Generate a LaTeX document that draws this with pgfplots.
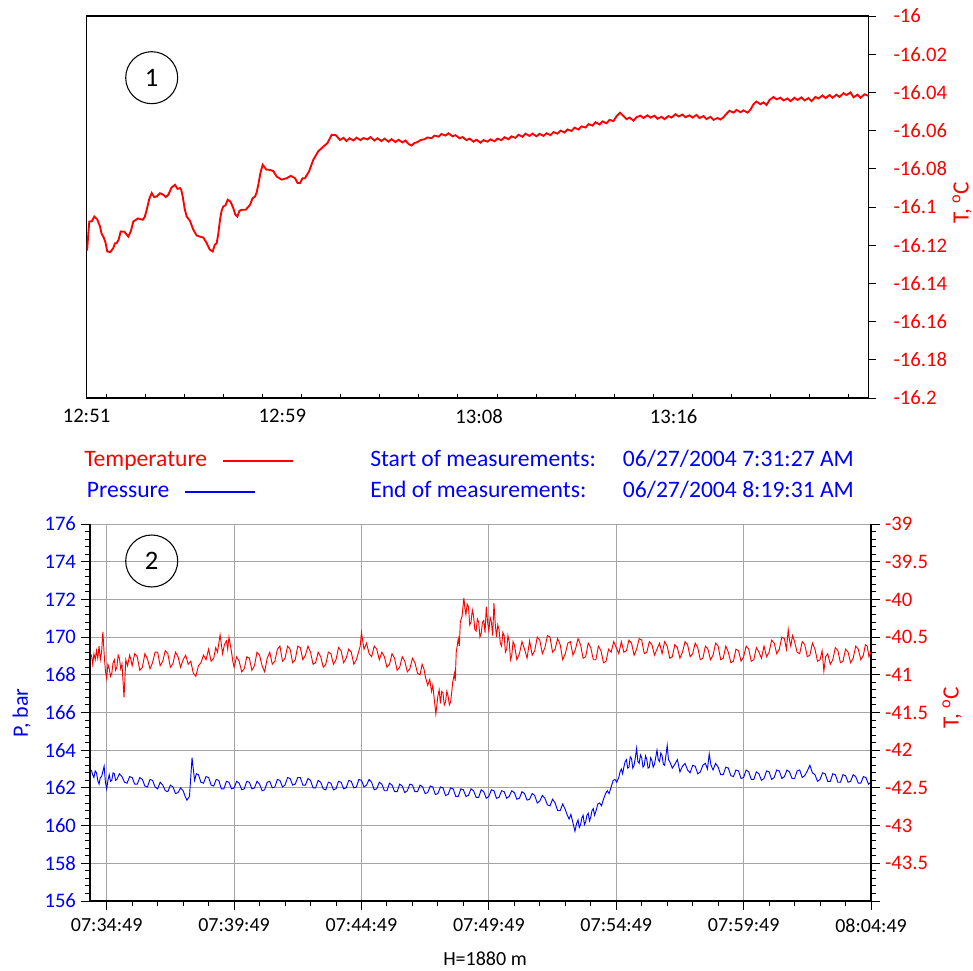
\documentclass[border=0pt]{standalone}
\usepackage{pgfplots}
\pgfplotsset{compat=1.18}
\usepackage{fontspec}
\setmainfont{Carlito}
\definecolor{tred}{RGB}{255,0,0}
\definecolor{pblue}{RGB}{0,0,255}
\definecolor{gridgray}{RGB}{165,165,165}
\newcommand\fs[1]{\fontsize{#1}{#1}\selectfont}
\begin{document}
\begin{tikzpicture}[x=0.75pt,y=0.75pt]
\useasboundingbox (0,0) rectangle (973,970);
% ---------------- Panel 1 ----------------
\begin{axis}[
  scale only axis, width=586.5pt, height=286.5pt,
  anchor=south west, at={(64.875pt,429pt)},
  xmin=0, xmax=782, ymin=-16.2, ymax=-16,
  axis line style={black, line width=0.9pt},
  tick align=outside,
  major tick length=3.2pt,
  xtick pos=left, ytick pos=right, yticklabel pos=right,
  xtick={19.5,58.6,97.7,136.8,175.9,215.0,254.1,293.2,332.3,371.4,410.5,449.6,488.7,527.8,566.9,606.0,645.1,684.2,723.3,762.4},
  xticklabels={},
  x tick style={black, line width=0.7pt, yshift=3.2pt},
  extra x ticks={0,195.8,392.7,587.2},
  extra x tick labels={12:51,12:59,13:08,13:16},
  extra x tick style={major tick length=0pt, tick style={draw=none},
     xticklabel style={font=\fs{15.5}, black, yshift=-5pt}},
  ytick=\empty,
  extra y ticks={-16.2,-16.18,-16.16,-16.14,-16.12,-16.1,-16.08,-16.06,-16.04,-16.02,-16},
  extra y tick labels={-16.2,-16.18,-16.16,-16.14,-16.12,-16.1,-16.08,-16.06,-16.04,-16.02,-16},
  extra y tick style={major tick length=5.8pt, tick style={black, line width=0.7pt},
     yticklabel style={font=\fs{15.5}, tred, xshift=9.5pt}},
]
\addplot[tred, line width=1.4pt] coordinates {
(0,-16.1230) (0.8,-16.1215) (1.8,-16.1140) (2.8,-16.1076) (5.3,-16.1075) (7.8,-16.1050)
(10.6,-16.1064) (13.5,-16.1102) (15.1,-16.1140) (16.8,-16.1155) (18.8,-16.1182)
(20.8,-16.1233) (23.8,-16.1236) (26.8,-16.1215) (28.5,-16.1190) (30.2,-16.1189)
(32.2,-16.1170) (34.2,-16.1128) (38.0,-16.1130) (41.8,-16.1155) (44.3,-16.1128)
(46.8,-16.1076) (51.5,-16.1060) (56.2,-16.1067) (58.2,-16.1053) (60.2,-16.1015)
(62.7,-16.0959) (65.2,-16.0927) (67.7,-16.0948) (70.2,-16.0945) (73.5,-16.0928)
(76.8,-16.0936) (79.3,-16.0948) (81.8,-16.0936) (85.1,-16.0898) (88.5,-16.0884)
(91.0,-16.0905) (93.5,-16.0901) (94.8,-16.0911) (96.2,-16.0945) (98.2,-16.1010)
(100.2,-16.1050) (103.5,-16.1073) (106.8,-16.1119) (110.1,-16.1149) (113.5,-16.1155)
(116.8,-16.1160) (120.2,-16.1189) (123.2,-16.1223) (126.2,-16.1233) (128.2,-16.1199)
(130.2,-16.1189) (131.8,-16.1140) (133.5,-16.1067) (135.1,-16.1020) (136.8,-16.0997)
(139.0,-16.0991) (141.2,-16.0962) (144.0,-16.0972) (146.8,-16.1006) (148.8,-16.1040)
(150.8,-16.1050) (153.0,-16.1020) (155.2,-16.1015) (159.3,-16.1014) (163.5,-16.0989)
(166.0,-16.0955) (168.5,-16.0945) (170.1,-16.0925) (171.8,-16.0884) (174.0,-16.0820)
(176.2,-16.0779) (179.8,-16.0804) (183.5,-16.0806) (186.8,-16.0812) (190.2,-16.0841)
(195.2,-16.0857) (200.2,-16.0849) (204.3,-16.0837) (208.5,-16.0849) (211.0,-16.0874)
(213.5,-16.0875) (216.0,-16.0850) (218.5,-16.0849) (222.6,-16.0813) (226.8,-16.0753)
(231.8,-16.0708) (236.8,-16.0684) (241.0,-16.0665) (245.2,-16.0622) (249.3,-16.0624)
(253.5,-16.0649) (257,-16.0638) (260,-16.0655) (263,-16.0640) (267,-16.0652)
(270,-16.0637) (274,-16.0650) (277,-16.0639) (281,-16.0646) (284,-16.0634)
(288,-16.0652) (291,-16.0640) (295,-16.0655) (298,-16.0642) (302,-16.0658)
(305,-16.0645) (309,-16.0660) (312,-16.0648) (316,-16.0662) (319,-16.0652)
(322,-16.0670) (325,-16.0678) (328,-16.0665) (331,-16.0660) (334,-16.0650)
(338,-16.0645) (341,-16.0636) (345,-16.0640) (348,-16.0626) (352,-16.0632)
(355,-16.0618) (359,-16.0626) (362,-16.0614) (366,-16.0630) (369,-16.0624)
(373,-16.0640) (376,-16.0634) (380,-16.0650) (383,-16.0642) (387,-16.0658)
(390,-16.0648) (394,-16.0663) (397,-16.0650) (401,-16.0658) (404,-16.0646)
(408,-16.0656) (411,-16.0642) (415,-16.0650) (418,-16.0635) (422,-16.0645)
(425,-16.0630) (429,-16.0638) (432,-16.0622) (436,-16.0632) (439,-16.0616)
(443,-16.0628) (446,-16.0616) (450,-16.0630) (453,-16.0617) (457,-16.0628)
(460,-16.0614) (464,-16.0624) (467,-16.0608) (471,-16.0616) (474,-16.0600)
(478,-16.0610) (481,-16.0594) (485,-16.0602) (488,-16.0585) (492,-16.0594)
(495,-16.0578) (499,-16.0584) (502,-16.0566) (506,-16.0574) (509,-16.0556)
(513,-16.0568) (516,-16.0552) (520,-16.0562) (523,-16.0544) (527,-16.0550)
(530,-16.0525) (533.5,-16.0506) (537,-16.0524) (540,-16.0540) (543,-16.0532)
(547,-16.0548) (550,-16.0530) (554,-16.0522) (557,-16.0534) (561,-16.0520)
(564,-16.0532) (568,-16.0522) (571,-16.0538) (575,-16.0528) (578,-16.0540)
(582,-16.0524) (585,-16.0532) (589,-16.0514) (592,-16.0526) (596,-16.0516)
(599,-16.0530) (603,-16.0520) (606,-16.0532) (610,-16.0518) (613,-16.0534)
(617,-16.0524) (620,-16.0540) (624,-16.0528) (627,-16.0544) (631,-16.0534)
(634,-16.0542) (637,-16.0530) (640,-16.0512) (643,-16.0496) (647,-16.0506)
(650,-16.0492) (654,-16.0504) (657,-16.0494) (661,-16.0506) (664,-16.0490)
(667,-16.0462) (670,-16.0448) (674,-16.0462) (677,-16.0452) (680,-16.0466)
(683,-16.0440) (687,-16.0424) (690,-16.0436) (694,-16.0428) (697,-16.0442)
(701,-16.0432) (704,-16.0446) (708,-16.0428) (711,-16.0440) (715,-16.0426)
(718,-16.0442) (722,-16.0430) (725,-16.0446) (729,-16.0424) (732,-16.0432)
(736,-16.0416) (739,-16.0430) (743,-16.0414) (746,-16.0428) (750,-16.0412)
(753,-16.0424) (757,-16.0404) (760,-16.0414) (764,-16.0400) (767,-16.0426)
(771,-16.0412) (774,-16.0428) (778,-16.0410) (782,-16.0418)
};
\end{axis}
% ---------------- Panel 2 : pressure ----------------
\begin{axis}[
  scale only axis, width=585.75pt, height=282.75pt,
  anchor=south west, at={(67.5pt,51.75pt)},
  xmin=-0.655, xmax=30, ymin=156, ymax=176,
  axis x line*=bottom, axis y line*=left,
  axis line style={-, black, line width=0.9pt},
  xtick pos=left, ytick pos=left,
  tick align=outside,
  xtick={0,5,10,15,20,25,30},
  xticklabels={07:34:49,07:39:49,07:44:49,07:49:49,07:54:49,07:59:49,08:04:49},
  minor x tick num=4,
  ytick={156,158,160,162,164,166,168,170,172,174,176},
  minor y tick num=4,
  major tick length=7pt, minor tick length=3.8pt,
  tick style={black, line width=0.7pt},
  grid=major, major grid style={gridgray, line width=0.6pt},
  xticklabel style={font=\fs{15}, black, yshift=-2.5pt},
  yticklabel style={font=\fs{15.5}, pblue},
  /pgf/number format/assume math mode=true,
]
\addplot[pblue, line width=0.7pt] coordinates {
(-0.60,162.95) (-0.55,162.70) (-0.50,162.55) (-0.45,162.90) (-0.40,162.80) (-0.35,162.40)
(-0.30,162.20) (-0.25,162.55) (-0.20,162.60) (-0.10,163.15) (-0.05,162.30) (0.00,161.95)
(0.05,162.40) (0.10,162.70) (0.15,162.35) (0.20,162.40) (0.25,162.80) (0.30,162.75)
(0.35,162.40) (0.40,162.45) (0.50,162.75) (0.60,162.60) (0.70,162.30) (0.80,162.25)
(0.90,162.60) (1.00,162.55) (1.10,162.20) (1.20,162.20) (1.30,162.55) (1.40,162.45)
(1.50,162.10) (1.60,162.05) (1.70,162.45) (1.80,162.40) (1.90,162.05) (2.00,161.95)
(2.10,162.30) (2.20,162.15) (2.30,161.85) (2.40,161.80) (2.50,162.15) (2.60,162.05)
(2.70,161.70) (2.80,161.75) (2.90,162.00) (3.00,161.85) (3.08,161.55) (3.15,161.35)
(3.25,161.55) (3.35,163.60) (3.45,162.40) (3.52,162.75) (3.60,162.70) (3.70,162.30)
(3.80,162.25) (3.90,162.60) (4.00,162.55) (4.10,162.15) (4.20,162.10) (4.30,162.45)
(4.40,162.40) (4.50,161.95) (4.60,161.95) (4.70,162.35) (4.80,162.30) (4.90,161.95)
(5.00,162.00) (5.10,162.35) (5.20,162.25) (5.30,161.90) (5.40,161.95) (5.50,162.35)
(5.60,162.30) (5.70,161.95) (5.80,162.00) (5.90,162.35) (6.00,162.20) (6.10,161.85)
(6.20,161.90) (6.30,162.30) (6.40,162.35) (6.50,162.00) (6.60,162.05) (6.70,162.45)
(6.80,162.40) (6.90,162.05) (7.00,162.15) (7.10,162.55) (7.20,162.50) (7.30,162.15)
(7.40,162.20) (7.50,162.55) (7.60,162.55) (7.70,162.15) (7.80,162.15) (7.90,162.50)
(8.00,162.40) (8.10,162.00) (8.20,162.00) (8.30,162.40) (8.40,162.30) (8.50,161.95)
(8.60,161.90) (8.70,162.30) (8.80,162.25) (8.90,161.90) (9.00,161.95) (9.10,162.35)
(9.20,162.30) (9.30,161.95) (9.40,162.00) (9.50,162.40) (9.60,162.35) (9.70,162.00)
(9.80,162.05) (9.90,162.45) (10.00,162.40) (10.10,162.05) (10.20,162.15) (10.30,162.45)
(10.40,162.30) (10.50,161.90) (10.60,161.95) (10.70,162.30) (10.80,162.20) (10.90,161.85)
(11.00,161.85) (11.10,162.25) (11.20,162.15) (11.30,161.80) (11.40,161.80) (11.50,162.20)
(11.60,162.10) (11.70,161.75) (11.80,161.85) (11.90,162.20) (12.00,162.15) (12.10,161.80)
(12.20,161.80) (12.30,162.15) (12.40,162.05) (12.50,161.70) (12.60,161.75) (12.70,162.10)
(12.80,162.05) (12.90,161.65) (13.00,161.70) (13.10,162.05) (13.20,162.00) (13.30,161.60)
(13.40,161.65) (13.50,162.00) (13.60,161.95) (13.70,161.55) (13.80,161.55) (13.90,161.95)
(14.00,161.90) (14.10,161.55) (14.20,161.60) (14.30,161.95) (14.40,161.85) (14.50,161.50)
(14.60,161.50) (14.70,161.90) (14.80,161.80) (14.90,161.45) (15.00,161.55) (15.10,161.90)
(15.20,161.85) (15.30,161.45) (15.40,161.50) (15.50,161.85) (15.60,161.80) (15.70,161.45)
(15.80,161.55) (15.90,161.85) (16.00,161.75) (16.10,161.40) (16.20,161.45) (16.30,161.80)
(16.40,161.70) (16.50,161.35) (16.60,161.40) (16.70,161.70) (16.80,161.60) (16.90,161.20)
(17.00,161.30) (17.10,161.60) (17.20,161.45) (17.30,161.10) (17.40,161.05) (17.50,161.40)
(17.60,161.20) (17.70,160.80) (17.80,160.80) (17.90,161.15) (18.00,160.85) (18.08,160.55)
(18.15,160.35) (18.22,160.60) (18.30,160.15) (18.38,159.70) (18.44,160.10) (18.50,160.30)
(18.55,159.90) (18.60,160.05) (18.65,160.40) (18.70,160.55) (18.75,160.05) (18.80,160.20)
(18.85,160.55) (18.90,160.65) (18.95,160.25) (19.00,160.45) (19.05,160.80) (19.10,160.90)
(19.15,160.55) (19.20,160.75) (19.28,161.15) (19.35,161.20) (19.42,161.05) (19.50,161.40)
(19.58,161.70) (19.65,161.85) (19.72,161.70) (19.80,162.05) (19.88,162.40) (19.95,162.45)
(20.02,162.30) (20.10,162.55) (20.15,162.85) (20.20,163.00) (20.25,162.75) (20.30,163.10)
(20.35,163.40) (20.40,163.50) (20.45,163.05) (20.50,163.10) (20.55,163.65) (20.60,163.55)
(20.65,163.05) (20.70,163.20) (20.75,163.60) (20.80,164.10) (20.85,163.40) (20.90,163.30)
(20.95,163.75) (21.00,163.60) (21.05,163.10) (21.10,163.20) (21.15,163.70) (21.20,163.50)
(21.25,163.05) (21.30,163.10) (21.35,163.60) (21.40,163.45) (21.45,163.10) (21.50,163.25)
(21.60,164.00) (21.65,163.50) (21.70,163.40) (21.75,163.85) (21.80,163.70) (21.85,163.25)
(21.90,163.20) (22.00,164.25) (22.05,163.50) (22.10,163.40) (22.20,163.05) (22.30,163.25)
(22.40,163.50) (22.50,162.85) (22.60,163.15) (22.70,163.30) (22.80,162.95) (22.90,162.80)
(23.00,163.20) (23.10,163.15) (23.20,162.75) (23.30,162.85) (23.40,163.20) (23.50,163.30)
(23.58,163.00) (23.65,163.80) (23.72,163.20) (23.80,162.95) (23.90,163.30) (24.00,163.10)
(24.10,162.70) (24.20,162.70) (24.30,163.10) (24.40,163.05) (24.50,162.65) (24.60,162.60)
(24.70,162.95) (24.80,162.90) (24.90,162.50) (25.00,162.55) (25.10,162.95) (25.20,162.85)
(25.30,162.45) (25.40,162.45) (25.50,162.85) (25.60,162.75) (25.70,162.40) (25.80,162.50)
(25.90,162.90) (26.00,162.85) (26.10,162.45) (26.20,162.55) (26.30,162.95) (26.40,162.90)
(26.50,162.50) (26.60,162.60) (26.70,162.95) (26.80,162.85) (26.90,162.50) (27.00,162.50)
(27.10,162.90) (27.20,162.95) (27.30,162.55) (27.40,162.65) (27.50,162.90) (27.60,163.20)
(27.70,162.80) (27.80,162.70) (27.90,162.35) (28.00,162.45) (28.10,162.80) (28.20,162.75)
(28.30,162.35) (28.40,162.35) (28.50,162.75) (28.60,162.70) (28.70,162.30) (28.80,162.30)
(28.90,162.70) (29.00,162.65) (29.10,162.30) (29.20,162.35) (29.30,162.70) (29.40,162.60)
(29.50,162.25) (29.60,162.25) (29.70,162.60) (29.80,162.55) (29.90,162.20) (30.00,162.30)
};
\end{axis}
% ---------------- Panel 2 : temperature ----------------
\begin{axis}[
  scale only axis, width=585.75pt, height=282.75pt,
  anchor=south west, at={(67.5pt,51.75pt)},
  xmin=-0.655, xmax=30, ymin=-44, ymax=-39,
  axis x line=none, axis y line*=right,
  axis line style={-, black, line width=0.9pt},
  ytick pos=right, yticklabel pos=right,
  tick align=outside,
  ytick={-44,-43.5,-43,-42.5,-42,-41.5,-41,-40.5,-40,-39.5,-39},
  yticklabels={,-43.5,-43,-42.5,-42,-41.5,-41,-40.5,-40,-39.5,-39},
  minor y tick num=4,
  major tick length=7pt, minor tick length=3.8pt,
  tick style={black, line width=0.7pt},
  yticklabel style={font=\fs{15.5}, tred},
]
\addplot[tred, line width=0.7pt] coordinates {
(-0.60,-40.73) (-0.55,-40.86) (-0.50,-40.72) (-0.45,-40.80) (-0.40,-40.68) (-0.35,-40.78)
(-0.30,-40.62) (-0.25,-40.80) (-0.20,-40.70) (-0.15,-40.43) (-0.10,-40.72) (-0.05,-40.95)
(0.00,-41.05) (0.05,-40.86) (0.10,-40.92) (0.15,-41.02) (0.20,-40.98) (0.25,-40.84)
(0.30,-40.80) (0.35,-40.94) (0.40,-40.90) (0.45,-40.74) (0.50,-40.78) (0.55,-40.92)
(0.60,-40.86) (0.68,-41.30) (0.75,-40.80) (0.82,-40.88) (0.90,-40.74) (0.95,-40.80)
(1.00,-40.88) (1.10,-40.72) (1.20,-40.76) (1.30,-40.94) (1.40,-40.90) (1.50,-40.72)
(1.60,-40.79) (1.70,-40.92) (1.80,-40.84) (1.90,-40.70) (2.00,-40.70) (2.10,-40.88)
(2.20,-40.82) (2.30,-40.68) (2.40,-40.72) (2.50,-40.90) (2.60,-40.85) (2.70,-40.70)
(2.80,-40.76) (2.90,-40.90) (3.00,-40.80) (3.10,-40.74) (3.20,-40.86) (3.30,-40.82)
(3.40,-40.98) (3.50,-41.02) (3.60,-40.88) (3.70,-40.84) (3.80,-40.74) (3.90,-40.80)
(4.00,-40.66) (4.10,-40.82) (4.20,-40.78) (4.28,-40.64) (4.35,-40.70) (4.45,-40.47)
(4.55,-40.72) (4.62,-40.60) (4.70,-40.55) (4.75,-40.66) (4.80,-40.50) (4.90,-40.70)
(4.95,-40.82) (5.00,-40.90) (5.10,-40.76) (5.20,-40.82) (5.30,-40.96) (5.40,-40.92)
(5.50,-40.76) (5.60,-40.78) (5.70,-40.94) (5.80,-40.88) (5.90,-40.70) (6.00,-40.74)
(6.10,-40.88) (6.20,-40.96) (6.30,-40.78) (6.40,-40.70) (6.50,-40.86) (6.60,-40.82)
(6.70,-40.66) (6.80,-40.62) (6.90,-40.82) (7.00,-40.78) (7.10,-40.62) (7.20,-40.66)
(7.30,-40.84) (7.40,-40.80) (7.50,-40.62) (7.60,-40.64) (7.70,-40.80) (7.80,-40.74)
(7.90,-40.62) (8.00,-40.70) (8.10,-40.86) (8.20,-40.84) (8.30,-40.70) (8.40,-40.76)
(8.50,-40.90) (8.60,-40.86) (8.70,-40.70) (8.80,-40.72) (8.90,-40.86) (9.00,-40.80)
(9.10,-40.64) (9.20,-40.68) (9.30,-40.84) (9.40,-40.78) (9.50,-40.66) (9.60,-40.70)
(9.70,-40.86) (9.80,-40.80) (9.95,-40.62) (10.00,-40.44) (10.10,-40.66) (10.20,-40.58)
(10.30,-40.72) (10.40,-40.76) (10.50,-40.62) (10.60,-40.66) (10.70,-40.80) (10.80,-40.70)
(10.90,-40.76) (11.00,-40.90) (11.10,-40.86) (11.20,-40.72) (11.30,-40.78) (11.40,-40.94)
(11.50,-40.90) (11.60,-40.76) (11.70,-40.82) (11.80,-40.96) (11.90,-40.92) (12.00,-40.78)
(12.10,-40.84) (12.20,-40.98) (12.30,-41.00) (12.38,-40.86) (12.45,-40.92) (12.52,-41.04)
(12.60,-41.14) (12.68,-41.06) (12.75,-41.22) (12.80,-41.14) (12.85,-41.30) (12.92,-41.52)
(13.00,-41.28) (13.05,-41.20) (13.10,-41.38) (13.15,-41.22) (13.20,-41.24) (13.25,-41.40)
(13.30,-41.36) (13.35,-41.22) (13.40,-41.28) (13.45,-41.40) (13.50,-41.36) (13.54,-41.24)
(13.58,-41.10) (13.65,-40.98) (13.68,-41.08) (13.72,-40.70) (13.80,-40.52) (13.84,-40.62)
(13.88,-40.30) (13.95,-40.22) (14.02,-39.98) (14.06,-40.12) (14.10,-40.20) (14.15,-40.06)
(14.20,-40.10) (14.25,-40.34) (14.30,-40.30) (14.35,-40.14) (14.40,-40.22) (14.45,-40.40)
(14.50,-40.42) (14.55,-40.26) (14.60,-40.30) (14.65,-40.50) (14.70,-40.45) (14.75,-40.30)
(14.80,-40.28) (14.85,-40.44) (14.90,-40.10) (14.95,-40.30) (15.00,-40.42) (15.05,-40.24)
(15.10,-40.30) (15.15,-40.48) (15.20,-40.05) (15.25,-40.32) (15.30,-40.50) (15.35,-40.34)
(15.40,-40.40) (15.45,-40.58) (15.50,-40.62) (15.55,-40.44) (15.60,-40.48) (15.65,-40.70)
(15.70,-40.66) (15.75,-40.48) (15.80,-40.56) (15.85,-40.80) (15.90,-40.74) (15.95,-40.56)
(16.00,-40.60) (16.10,-40.80) (16.20,-40.72) (16.30,-40.56) (16.40,-40.66) (16.50,-40.78)
(16.60,-40.55) (16.70,-40.74) (16.80,-40.68) (16.90,-40.50) (17.00,-40.54) (17.10,-40.72)
(17.20,-40.64) (17.30,-40.48) (17.40,-40.50) (17.50,-40.70) (17.60,-40.66) (17.70,-40.52)
(17.80,-40.60) (17.90,-40.80) (18.00,-40.72) (18.10,-40.58) (18.20,-40.56) (18.30,-40.74)
(18.40,-40.66) (18.50,-40.52) (18.60,-40.60) (18.70,-40.78) (18.80,-40.76) (18.90,-40.58)
(19.00,-40.64) (19.10,-40.80) (19.20,-40.80) (19.30,-40.62) (19.40,-40.68) (19.50,-40.84)
(19.60,-40.82) (19.70,-40.66) (19.80,-40.70) (19.90,-40.56) (20.00,-40.64) (20.10,-40.72)
(20.20,-40.56) (20.30,-40.70) (20.40,-40.68) (20.50,-40.54) (20.60,-40.58) (20.70,-40.74)
(20.80,-40.66) (20.90,-40.52) (21.00,-40.54) (21.10,-40.72) (21.20,-40.70) (21.30,-40.56)
(21.40,-40.60) (21.50,-40.74) (21.60,-40.66) (21.70,-40.58) (21.80,-40.72) (21.90,-40.56)
(22.00,-40.62) (22.10,-40.78) (22.20,-40.76) (22.30,-40.60) (22.40,-40.64) (22.50,-40.78)
(22.60,-40.70) (22.70,-40.56) (22.80,-40.60) (22.90,-40.76) (23.00,-40.72) (23.10,-40.58)
(23.20,-40.64) (23.30,-40.80) (23.40,-40.78) (23.50,-40.62) (23.60,-40.66) (23.70,-40.80)
(23.80,-40.74) (23.90,-40.58) (24.00,-40.62) (24.10,-40.80) (24.20,-40.78) (24.30,-40.62)
(24.40,-40.70) (24.50,-40.84) (24.60,-40.82) (24.70,-40.66) (24.80,-40.68) (24.90,-40.82)
(25.00,-40.76) (25.10,-40.62) (25.20,-40.66) (25.30,-40.82) (25.40,-40.80) (25.50,-40.64)
(25.60,-40.70) (25.70,-40.78) (25.80,-40.62) (25.90,-40.76) (26.00,-40.70) (26.10,-40.54)
(26.20,-40.58) (26.30,-40.72) (26.40,-40.66) (26.50,-40.50) (26.60,-40.52) (26.68,-40.66)
(26.75,-40.40) (26.80,-40.54) (26.85,-40.62) (26.92,-40.48) (27.00,-40.56) (27.10,-40.70)
(27.20,-40.72) (27.30,-40.56) (27.40,-40.60) (27.50,-40.76) (27.60,-40.74) (27.70,-40.58)
(27.80,-40.66) (27.90,-40.82) (28.00,-40.80) (28.08,-40.68) (28.15,-40.95) (28.22,-40.76)
(28.30,-40.72) (28.40,-40.86) (28.50,-40.80) (28.60,-40.64) (28.70,-40.68) (28.80,-40.84)
(28.90,-40.82) (29.00,-40.66) (29.10,-40.70) (29.20,-40.84) (29.30,-40.78) (29.40,-40.62)
(29.50,-40.66) (29.60,-40.80) (29.70,-40.74) (29.78,-40.60) (29.85,-40.62) (29.92,-40.76)
(30.00,-40.70)
};
\end{axis}
% ---------------- texts ----------------
\draw[black, line width=0.8pt] (151.7,892.3) circle (26);
\node[font=\fs{20}] at (151.7,892.3) {1};
\draw[black, line width=0.8pt] (151.7,409) circle (26);
\node[font=\fs{20}] at (151.7,409) {2};
\node[font=\fs{17.5}, tred, rotate=90] at (962,767) {T, \textsuperscript{o}C};
\node[font=\fs{17.5}, tred, rotate=90] at (952,262) {T, \textsuperscript{o}C};
\node[font=\fs{16.5}, pblue, rotate=90] at (21.7,257) {P, bar};
\node[font=\fs{15}, black, inner sep=0, anchor=base] at (485,5) {H=1880 m};
\node[font=\fs{17.7}, tred, anchor=base west, inner sep=0] at (84,503.3) {Temperature};
\draw[tred, line width=1.5pt] (223.3,509.3) -- (292.7,509.3);
\node[font=\fs{17.7}, pblue, anchor=base west, inner sep=0] at (86.7,472.7) {Pressure};
\draw[pblue, line width=1.5pt] (185,477.7) -- (255,477.7);
\node[font=\fs{17.7}, pblue, anchor=base west, inner sep=0] at (370,503.3) {Start of measurements:};
\node[font=\fs{17.7}, pblue, anchor=base west, inner sep=0] at (622.7,503.3) {06/27/2004 7:31:27 AM};
\node[font=\fs{17.7}, pblue, anchor=base west, inner sep=0] at (370,472.7) {End of measurements:};
\node[font=\fs{17.7}, pblue, anchor=base west, inner sep=0] at (622.7,472.7) {06/27/2004 8:19:31 AM};
\end{tikzpicture}
\end{document}
